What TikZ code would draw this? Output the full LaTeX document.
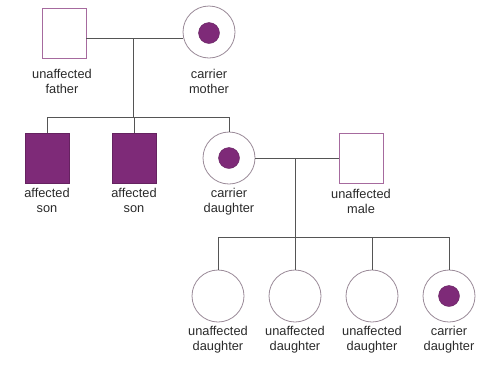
\documentclass[tikz,border=0pt]{standalone}
\usepackage{fontspec}
\setmainfont{Liberation Sans}
\definecolor{aff}{HTML}{7E2A78}
\definecolor{edge}{HTML}{A66A9E}
\definecolor{ring}{HTML}{9A8A98}
\definecolor{linec}{HTML}{555555}
\definecolor{txt}{HTML}{2A2A2A}
\begin{document}
\begin{tikzpicture}[x=1pt,y=-1pt,
  male/.style={draw=edge, line width=0.9pt, minimum width=44pt, minimum height=50pt, inner sep=0pt, fill=white},
  affmale/.style={male, fill=aff, draw=aff!80!black},
  female/.style={draw=ring, line width=0.8pt, circle, minimum size=52pt, inner sep=0pt, fill=white},
  dotc/.style={circle, fill=aff, draw=aff!80!black, minimum size=21pt, inner sep=0pt},
  lbl/.style={align=center, font=\fontsize{12.8}{15.5}\selectfont, text=txt, anchor=north, inner sep=0pt},
  conn/.style={draw=linec, line width=1pt}
]
\useasboundingbox (0,0) rectangle (484,365);
% generation 1
\node[male] (father) at (64,33) {};
\node[female] (mother) at (209,32) {};
\node[dotc] (motherdot) at (209,33) {};
\node[lbl] (lfather) at (62,69) {unaffected\\father};
\node[lbl] (lmother) at (209,69) {carrier\\mother};
\coordinate (m1) at (133,38);
\coordinate (s1) at (133,117);
% generation 2
\node[affmale] (son1) at (47,158) {};
\node[affmale] (son2) at (134,158) {};
\node[female] (cd) at (229,158) {};
\node[dotc] (cddot) at (229,158) {};
\node[male] (um) at (361,158) {};
\node[lbl] (lson1) at (47,188) {affected\\son};
\node[lbl] (lson2) at (134,188) {affected\\son};
\node[lbl] (lcd) at (229,188) {carrier\\daughter};
\node[lbl] (lum) at (361,189) {unaffected\\male};
\coordinate (m2) at (295,158);
\coordinate (s2) at (295,237);
% generation 3
\node[female] (d1) at (218,296) {};
\node[female] (d2) at (295,296) {};
\node[female] (d3) at (372,296) {};
\node[female] (d4) at (449,296) {};
\node[dotc] (d4dot) at (449,296) {};
\node[lbl] (ld1) at (218,326) {unaffected\\daughter};
\node[lbl] (ld2) at (295,326) {unaffected\\daughter};
\node[lbl] (ld3) at (372,326) {unaffected\\daughter};
\node[lbl] (ld4) at (449,326) {carrier\\daughter};
% connectors
\draw[conn] (father.east |- m1) -- (mother.west |- m1);
\draw[conn] (m1) -- (s1);
\draw[conn] (son1.north) -- (son1.north |- s1) -- (cd.north |- s1) -- (cd.north);
\draw[conn] (son2.north) -- (son2.north |- s1);
\draw[conn] (cd.east |- m2) -- (um.west |- m2);
\draw[conn] (m2) -- (s2);
\draw[conn] (d1.north) -- (d1.north |- s2) -- (d4.north |- s2) -- (d4.north);
\draw[conn] (d2.north) -- (d2.north |- s2);
\draw[conn] (d3.north) -- (d3.north |- s2);
\end{tikzpicture}
\end{document}
